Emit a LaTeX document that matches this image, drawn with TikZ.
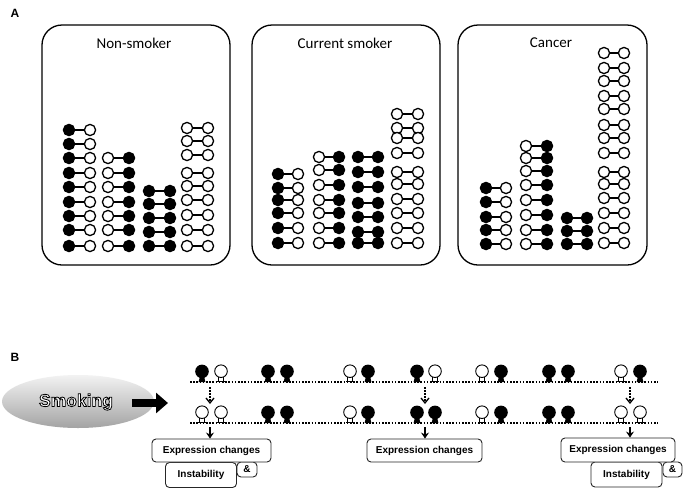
\documentclass[tikz,border=0pt]{standalone}
\usepackage{fontspec}
\setmainfont{Liberation Sans}
\newfontfamily\calib{Carlito}
\usetikzlibrary{arrows.meta,shapes.geometric}

\newcommand\dcol[5]{%
  \foreach \yy in {#5}{%
    \draw[line width=1.8pt] (#1,\yy) -- (#3,\yy);
    \filldraw[line width=1.3pt, fill=#2] (#1,\yy) circle (5.6pt);
    \filldraw[line width=1.3pt, fill=#4] (#3,\yy) circle (5.6pt);
  }}
\newcommand\outlinedtext[1]{\special{pdf:literal direct 2 Tr 0.8 w 0 G}#1\special{pdf:literal direct 0 Tr}}

\tikzset{
  panel/.style={draw, line width=1.3pt, rounded corners=20pt},
  ttl/.style={font=\calib\fontsize{15}{18}\selectfont, inner sep=0},
  lbl/.style={font=\bfseries\fontsize{12}{14}\selectfont, inner sep=0},
  bbox/.style={draw=black!85, rounded corners=4pt, line width=0.9pt, fill=white,
     font=\bfseries\fontsize{10}{12}\selectfont, inner sep=0},
  dotline/.style={line width=1.6pt, dash pattern=on 1.6pt off 1.6pt},
  dotarrow/.style={line width=1.3pt, dash pattern=on 1.6pt off 1.4pt,
     -{Straight Barb[length=5pt,width=8pt,line width=1.3pt]}},
  solarrow/.style={line width=1.4pt, -{Stealth[length=6pt,width=8pt]}},
  lolB/.pic={\fill (0,-10.6) circle (6.8pt);
             \fill (-2.2,-5) -- (2.2,-5) -- (3.4,0) -- (-3.4,0) -- cycle;},
  lolW/.pic={\filldraw[fill=white, line width=0.9pt] (0,-10.8) circle (6.3pt);
             \draw[line width=0.8pt] (-2.3,-4.6) -- (-2.3,-0.6) (2.3,-4.6) -- (2.3,-0.6)
                (-3.6,-0.6) -- (3.6,-0.6);}
}

\begin{document}
\begin{tikzpicture}[x=1pt,y=-1pt]
\useasboundingbox (0,0) rectangle (686,491);
\fill[white] (0,0) rectangle (686,491);

% ---------- Panel A ----------
\node[lbl] (labA) at (15,13) {A};

\draw[panel] (42,25) rectangle (230,265);
\node[ttl] (t1) at (134,43) {Non-smoker};
\dcol{69}{black}{90}{white}{130,144,158,173,187,202,216,230,246}
\dcol{108}{white}{129}{black}{158,173,187,202,216,230,246}
\dcol{149}{black}{170}{black}{191,204,218,232,246}
\dcol{187}{white}{208}{white}{128,141,155,173,186,200,215,230,246}

\draw[panel] (252,25) rectangle (440,265);
\node[ttl] (t2) at (345,43) {Current smoker};
\dcol{278}{black}{298}{white}{174,188,200,213,228,243}
\dcol{319}{white}{339}{black}{157,170,185,200,213,228,243}
\dcol{358}{black}{378}{black}{157,172,187,203,217,232,243}
\dcol{397}{white}{418}{white}{114,128,138,153,172,184,199,213,228,243}

\draw[panel] (458,25) rectangle (647,265);
\node[ttl] (t3) at (551,43) {Cancer};
\dcol{486}{black}{506}{white}{188,202,217,230,244}
\dcol{526}{white}{547}{black}{146,158,171,185,200,215,230,244}
\dcol{567}{black}{587}{black}{218,231,244}
\dcol{604}{white}{624}{white}{53,68,81,96,109,125,138,153,172,184,198,213,228,243}

% ---------- Panel B ----------
\node[lbl] (labB) at (15,357) {B};

\node[ellipse, minimum width=152pt, minimum height=53pt, inner sep=0,
      top color=gray!10, bottom color=gray!72, middle color=gray!40] (smk) at (78,401.5) {};
\node[font=\bfseries\fontsize{17.5}{20}\selectfont, inner sep=0, text=white] (smkt) at (76,402)
  {\outlinedtext{Smoking}};

\coordinate (arrS) at (132,403);
\coordinate (arrE) at (168,403);
\draw[line width=8pt, -{Triangle[length=12pt,width=20pt]}] (arrS) -- (arrE);

% dotted lines
\coordinate (L1s) at (190,382); \coordinate (L1e) at (658,382);
\coordinate (L2s) at (190,423); \coordinate (L2e) at (658,423);
\draw[dotline] (L1s) -- (L1e);
\draw[dotline] (L2s) -- (L2e);

% top row
\foreach \x in {202,268,287,368,417,501,549,568,640} \pic at (\x,382) {lolB};
\foreach \x in {221,350,435,482,621} \pic at (\x,382) {lolW};
% bottom row
\foreach \x in {268,287,368,417,435,501,549,568} \pic at (\x,423) {lolB};
\foreach \x in {202,221,350,482,621,640} \pic at (\x,423) {lolW};

% dotted arrows
\coordinate (d1s) at (210,387); \coordinate (d1e) at (210,404);
\coordinate (d2s) at (425,387); \coordinate (d2e) at (425,404);
\coordinate (d3s) at (630,387); \coordinate (d3e) at (630,404);
\draw[dotarrow] (d1s) -- (d1e);
\draw[dotarrow] (d2s) -- (d2e);
\draw[dotarrow] (d3s) -- (d3e);

% boxes
\node[bbox, minimum width=71pt, minimum height=25pt] (ins1) at (201,475) {Instability};
\node[bbox, minimum width=20pt, minimum height=15pt] (amp1) at (247,469.5) {\&};
\node[bbox, minimum width=119pt, minimum height=23pt] (exp1) at (211.5,450.5) {Expression changes};

\node[bbox, minimum width=115pt, minimum height=23pt] (exp2) at (424.5,450.5) {Expression changes};

\node[bbox, minimum width=71pt, minimum height=25pt] (ins3) at (626.5,474.5) {Instability};
\node[bbox, minimum width=19pt, minimum height=15pt] (amp3) at (672.5,469.5) {\&};
\node[bbox, minimum width=114pt, minimum height=24pt] (exp3) at (618,450) {Expression changes};

% solid arrows
\coordinate (s1) at (210,427); \coordinate (s2) at (425,427); \coordinate (s3) at (630,427);
\draw[solarrow] (s1) -- (exp1.north -| s1);
\draw[solarrow] (s2) -- (exp2.north -| s2);
\draw[solarrow] (s3) -- (exp3.north -| s3);
\end{tikzpicture}
\end{document}
